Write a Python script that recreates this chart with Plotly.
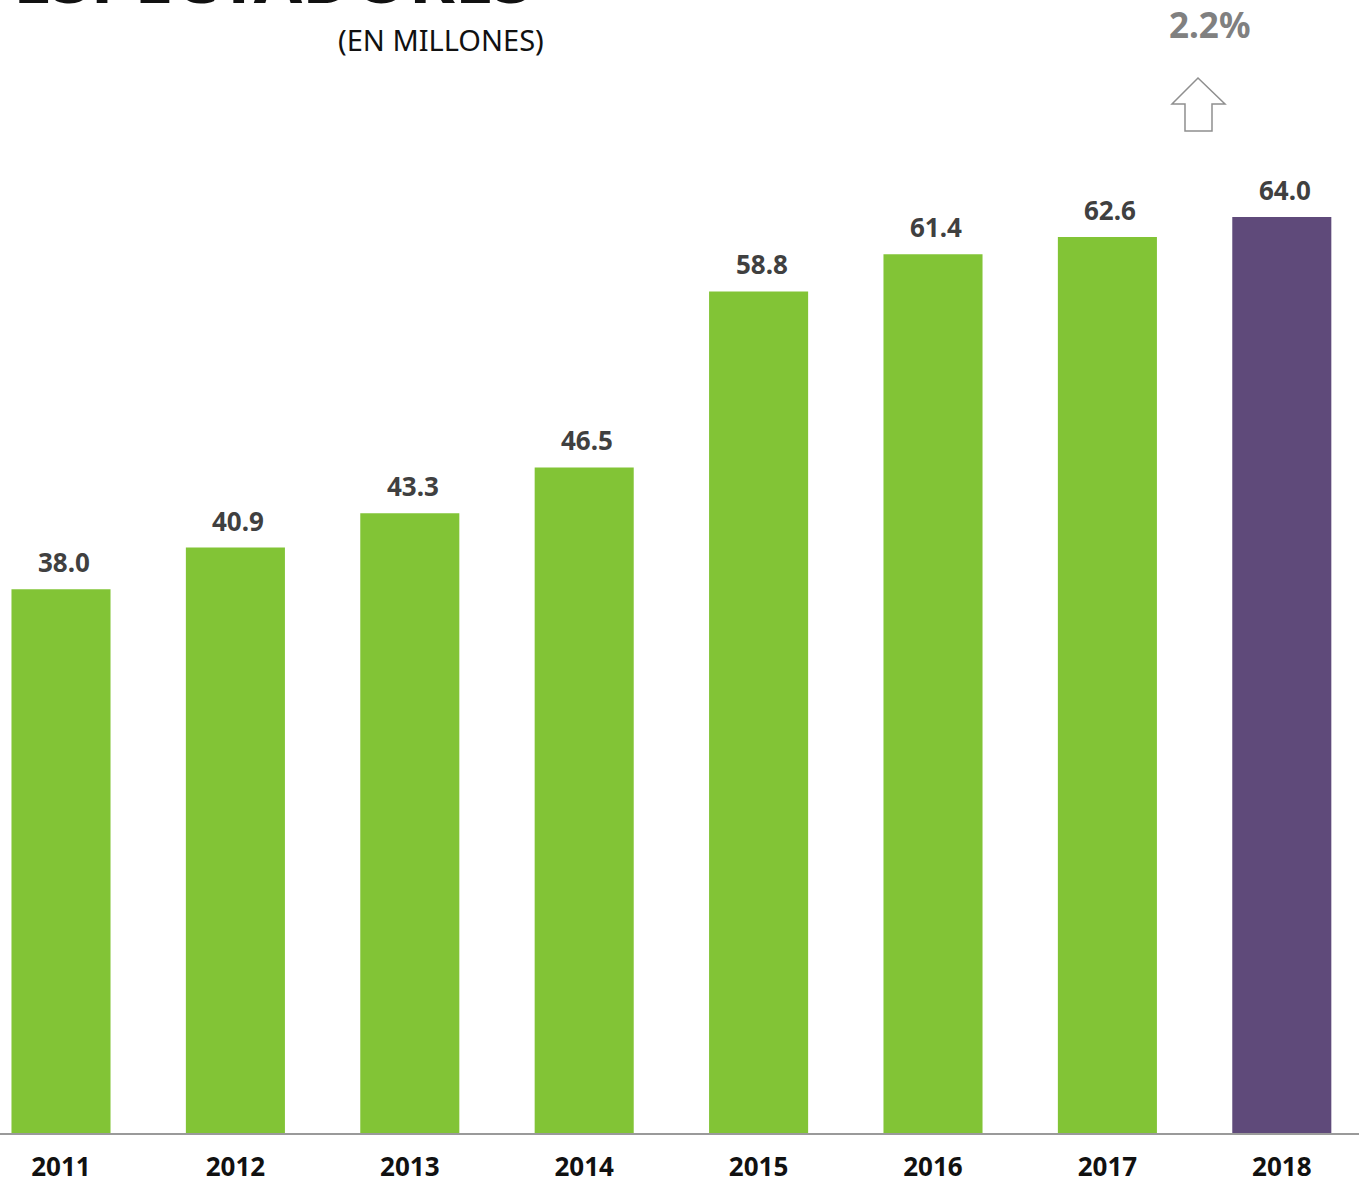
import plotly.graph_objects as go

years = ["2011", "2012", "2013", "2014", "2015", "2016", "2017", "2018"]
values = [38.0, 40.9, 43.3, 46.5, 58.8, 61.4, 62.6, 64.0]
labels = ["38.0", "40.9", "43.3", "46.5", "58.8", "61.4", "62.6", "64.0"]
growth_label = "2.2%"
title_text = "ESPECTADORES"
subtitle_text = "(EN MILLONES)"

GREEN = "#82C436"
PURPLE = "#5F4A7A"
colors = [GREEN] * (len(years) - 1) + [PURPLE]

W, H = 1359, 1179
BASE = 1133                # baseline, px from top
T = 150
B = H - BASE
PH = BASE - T
SCALE = 916 / 64.0         # px per unit


def px_x(px):
    return px / W


def px_y(py):
    return (BASE - py) / PH


fig = go.Figure()
fig.add_trace(go.Bar(
    x=years, y=values, marker=dict(color=colors, line=dict(width=0)),
    width=0.568, hoverinfo="x+y",
))

for i, (v, lab) in enumerate(zip(values, labels)):
    fig.add_annotation(
        x=i, y=v, text=f"<b>{lab}</b>", showarrow=False,
        yanchor="middle", yshift=27, xshift=3,
        font=dict(family="Noto Sans", size=26, color="#404040"),
    )

# subtitle
fig.add_annotation(
    xref="paper", yref="paper", x=px_x(441), y=px_y(39), text=subtitle_text,
    showarrow=False, xanchor="center", yanchor="middle",
    font=dict(family="Noto Sans", size=29, color="#111111"),
)
# title, cut off by the top edge as in the original
fig.add_annotation(
    xref="paper", yref="paper", x=px_x(11), y=px_y(26), text=f"<b>{title_text}</b>",
    showarrow=False, xanchor="left", yanchor="bottom",
    font=dict(family="Noto Sans", size=70, color="#111111"),
)
# growth label
fig.add_annotation(
    xref="paper", yref="paper", x=px_x(1209), y=px_y(24), text=f"<b>{growth_label}</b>",
    showarrow=False, xanchor="center", yanchor="middle",
    font=dict(family="Noto Sans", size=35, color="#808080"),
)

# outlined up-arrow
pts = [(1198, 78), (1225, 104), (1212, 104), (1212, 131), (1185, 131), (1185, 104), (1172, 104)]
path = "M " + " L ".join(f"{px_x(x):.5f},{px_y(y):.5f}" for x, y in pts) + " Z"
fig.add_shape(type="path", xref="paper", yref="paper", path=path,
              line=dict(color="#8f8f8f", width=1.5), fillcolor="rgba(0,0,0,0)")

step = 174.4
a = -61 / step
fig.update_layout(
    width=W, height=H,
    margin=dict(l=0, r=0, t=T, b=B, autoexpand=False),
    paper_bgcolor="white", plot_bgcolor="white",
    showlegend=False,
    xaxis=dict(
        type="category", range=[a, a + W / step], automargin=False,
        showline=True, linecolor="#9a9a9a", linewidth=2,
        ticks="outside", ticklen=10, tickcolor="rgba(0,0,0,0)",
        tickfont=dict(family="Noto Sans", size=26, color="#111111", weight="bold"),
        showgrid=False, fixedrange=True,
    ),
    yaxis=dict(range=[0, PH / SCALE], visible=False, showgrid=False, fixedrange=True,
               automargin=False),
)

fig.write_html(
    "out.html",
    config={"displayModeBar": False},
    post_script="document.body.style.margin='0';",
)
